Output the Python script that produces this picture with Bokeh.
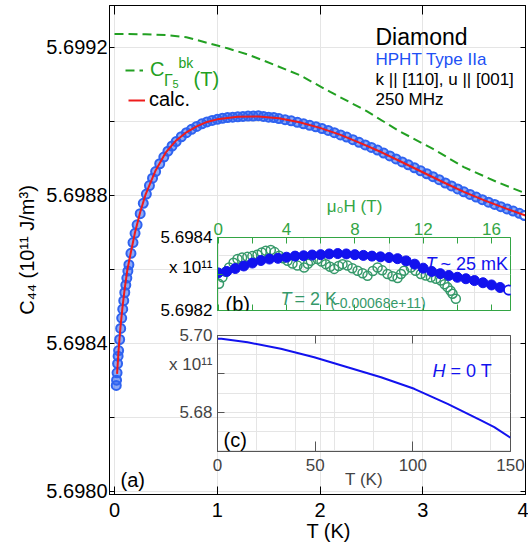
from bokeh.plotting import figure
from bokeh.models import (Range1d, LinearAxis, FixedTicker, PrintfTickFormatter, Label,
                          Legend, LegendItem)
from bokeh.embed import file_html
from bokeh.resources import INLINE
from bokeh.core.properties import value

FONT = "Liberation Sans"

# ---------------- data (main panel a) ----------------
T_data = [0.017, 0.02, 0.025, 0.03, 0.035, 0.04, 0.05, 0.06, 0.07, 0.08, 0.09, 0.10, 0.11, 0.12,
          0.13, 0.14, 0.16, 0.18, 0.20, 0.22, 0.25, 0.28, 0.31, 0.34, 0.37, 0.40, 0.44, 0.48,
          0.52, 0.56, 0.60, 0.65, 0.70, 0.75, 0.80, 0.85, 0.90, 0.95, 1.00, 1.05, 1.10, 1.15,
          1.20, 1.25, 1.30, 1.35, 1.40, 1.45, 1.50, 1.55, 1.60, 1.66, 1.72, 1.78, 1.84, 1.90,
          1.96, 2.02, 2.08, 2.14, 2.20, 2.26, 2.32, 2.38, 2.44, 2.50, 2.56, 2.62, 2.68, 2.74,
          2.80, 2.86, 2.92, 2.98, 3.04, 3.10, 3.16, 3.22, 3.28, 3.34, 3.40, 3.46, 3.52, 3.58,
          3.64, 3.70, 3.76, 3.82, 3.88, 3.94, 3.99]
C_data = [5.698286, 5.698300, 5.698320, 5.698345, 5.698365, 5.698380, 5.698410, 5.698440,
          5.698468, 5.698492, 5.698515, 5.698537, 5.698557, 5.698576, 5.698595, 5.698612,
          5.698643, 5.698672, 5.698697, 5.698720, 5.698750, 5.698778, 5.698803, 5.698826,
          5.698846, 5.698864, 5.698885, 5.698903, 5.698919, 5.698933, 5.698945, 5.698958,
          5.698969, 5.698978, 5.698986, 5.698993, 5.698998, 5.699002, 5.699005, 5.699008,
          5.699010, 5.699011, 5.699012, 5.699013, 5.699014, 5.699014, 5.699015, 5.699013,
          5.699011, 5.699010, 5.699007, 5.699004, 5.699001, 5.698997, 5.698993, 5.698989,
          5.698985, 5.698980, 5.698975, 5.698969, 5.698963, 5.698957, 5.698950, 5.698943,
          5.698936, 5.698929, 5.698922, 5.698914, 5.698906, 5.698898, 5.698890, 5.698882,
          5.698874, 5.698866, 5.698858, 5.698850, 5.698842, 5.698833, 5.698825, 5.698817,
          5.698809, 5.698802, 5.698795, 5.698788, 5.698781, 5.698775, 5.698769, 5.698763,
          5.698757, 5.698751, 5.698745]

T_calc = [0.025, 0.04, 0.06, 0.08, 0.10, 0.125, 0.15, 0.2, 0.25, 0.3, 0.4, 0.5, 0.6, 0.7,
          0.8, 0.9, 1.0, 1.2, 1.4, 1.6, 1.8, 2.0, 2.2, 2.4, 2.6, 2.8, 3.0, 3.2, 3.4, 3.6,
          3.8, 4.0]
C_calc = [5.698317, 5.698382, 5.698449, 5.698503, 5.698549, 5.698598, 5.698633, 5.698700,
          5.698754, 5.698800, 5.698867, 5.698916, 5.698948, 5.698970, 5.698986, 5.698998,
          5.699005, 5.699012, 5.699013, 5.699008, 5.698997, 5.698982, 5.698963, 5.698940,
          5.698916, 5.698889, 5.698862, 5.698835, 5.698809, 5.698786, 5.698765, 5.698745]

T_bk = [0.0, 0.3, 0.5, 0.7, 0.9, 1.1, 1.3, 1.45, 1.8, 2.1, 2.45, 2.76, 3.1, 3.4, 3.72, 4.0]
C_bk = [5.699236, 5.699235, 5.699233, 5.699227, 5.699212, 5.699197, 5.699180, 5.699164,
        5.699125, 5.699079, 5.699028, 5.698975, 5.698925, 5.698876, 5.698836, 5.698805]

# ---------------- data (inset b) ----------------
H_25mK = [0, 0.5, 1, 1.5, 2, 2.5, 3, 3.5, 4, 4.5, 5, 5.5, 6, 6.5, 7, 7.5, 8, 8.5, 9, 9.5,
          10, 10.5, 11, 11.5, 12, 12.5, 13, 13.5, 14, 14.5, 15, 15.5, 16, 16.5, 17.0]
C_25mK = [5.698303, 5.698307, 5.698315, 5.698322, 5.698330, 5.698337, 5.698341, 5.698343,
          5.698346, 5.698349, 5.698350, 5.698352, 5.698353, 5.698355, 5.698356, 5.698355,
          5.698353, 5.698351, 5.698349, 5.698347, 5.698345, 5.698342, 5.698336, 5.698327,
          5.698316, 5.698307, 5.698301, 5.698296, 5.698291, 5.698287, 5.698282, 5.698276,
          5.698270, 5.698263, 5.698256]

H_2K = [0.05, 0.25, 0.45, 0.64, 0.9, 1.13, 1.4, 1.71, 2.0, 2.30, 2.55, 2.79, 3.08, 3.3, 3.57,
        3.8, 4.06, 4.35, 4.64, 5.03, 5.25, 5.42, 5.81, 6.05, 6.30, 6.55, 6.79, 7.05, 7.28,
        7.57, 7.85, 8.16, 8.45, 8.74, 9.05, 9.33, 9.6, 9.91, 10.2, 10.5, 10.7, 10.88, 11.28,
        11.55, 11.86, 12.15, 12.45, 12.75, 13.03, 13.25, 13.42, 13.6, 13.72, 13.91]
C_2K_raw = [5.698953, 5.698971, 5.698986, 5.698998, 5.699011, 5.699021, 5.699025, 5.699027,
            5.699029, 5.699033, 5.699039, 5.699044, 5.699046, 5.699040, 5.699030, 5.699023,
            5.699016, 5.699009, 5.699003, 5.698998, 5.699008, 5.699016, 5.699021, 5.699014,
            5.699007, 5.699000, 5.698994, 5.699002, 5.699007, 5.699003, 5.698996, 5.698989,
            5.698982, 5.698975, 5.698988, 5.698998, 5.698990, 5.698980, 5.698974, 5.698969,
            5.698980, 5.698989, 5.698998, 5.698989, 5.698980, 5.698976, 5.698971, 5.698967,
            5.698962, 5.698952, 5.698944, 5.698934, 5.698926, 5.698912]
OFFSET_2K = 0.00068

# ---------------- data (inset c) ----------------
T_wide = [0, 2, 15.4, 32.4, 49.5, 66.6, 83.7, 100.7, 117.8, 134.9, 141.7, 150]
C_wide = [5.69914, 5.69918, 5.69825, 5.69653, 5.69434, 5.69173, 5.68913, 5.68610, 5.68219,
          5.67784, 5.67609, 5.67332]

# ---------------- colours ----------------
BLUE_DATA = "#2f63f0"
RED = "#ee1c1c"
GREEN = "#22a022"
GREEN_B = "#33a544"
GREEN_DATA = "#36996a"
DEEP_BLUE = "#1212ee"
GRAY = "#555555"
LGRAY = "#444444"


def axis(ticks, minor=None, tin=6, minin=None, fs=None, color="black", lcolor="black",
         fmt="%.4f", standoff=3, overrides=None):
    ax = LinearAxis(
        ticker=FixedTicker(ticks=ticks, minor_ticks=minor or []),
        formatter=PrintfTickFormatter(format=fmt),
        major_tick_in=tin, major_tick_out=0,
        minor_tick_in=tin if minin is None else minin, minor_tick_out=0,
        axis_line_color=color, major_tick_line_color=color, minor_tick_line_color=color,
        major_label_text_font=FONT,
        major_label_text_font_size=fs if fs else "1px",
        major_label_text_color=lcolor if fs else None,
        major_label_standoff=standoff if fs else 0)
    if overrides:
        ax.major_label_overrides = overrides
    elif not fs:
        ax.major_label_overrides = {t: "" for t in ticks}
    return ax


def title(ax, text, size, color="black", standoff=0):
    ax.axis_label = text
    ax.axis_label_text_font = FONT
    ax.axis_label_text_font_size = f"{size}px"
    ax.axis_label_text_font_style = "normal"
    ax.axis_label_text_color = color
    ax.axis_label_standoff = standoff


def mapper(fx0, fx1, xr, fy0, fy1, yr):
    """page pixels -> data coordinates of a panel (for text placement)"""
    def mx(px):
        return xr[0] + (px - fx0) / (fx1 - fx0) * (xr[1] - xr[0])

    def my(py):
        return yr[1] - (py - fy0) / (fy1 - fy0) * (yr[1] - yr[0])
    return mx, my


def lab(fig, m, px, py, text, size, color="black", style="normal", align="left",
        baseline="alphabetic"):
    fx, fy = m
    fig.add_layout(Label(x=fx(px), y=fy(py), text=text, text_font=FONT,
                         text_font_size=f"{size}px", text_color=color,
                         text_font_style=style, text_align=align,
                         text_baseline=baseline))


# ---------------- main figure (panel a) ----------------
XR = (-0.0487, 4.0)
YR = (5.6979911, 5.6993127)
p = figure(width=528, height=548, output_backend="svg", toolbar_location=None,
           x_range=Range1d(*XR), y_range=Range1d(*YR),
           min_border_left=109, min_border_right=3, min_border_top=5, min_border_bottom=54,
           x_axis_location=None, y_axis_location=None)
p.outline_line_color = "black"
p.background_fill_color = "white"

yl = axis([5.6980, 5.6984, 5.6988, 5.6992], [5.6982, 5.6986, 5.6990], tin=5,
          fs="20px", standoff=2)
title(yl, "C\u2084\u2084 (10\u00b9\u00b9 J/m\u00b3)", 20, standoff=5)
p.add_layout(yl, "left")
p.add_layout(axis([5.6980, 5.6982, 5.6984, 5.6986, 5.6988, 5.6990, 5.6992], tin=5), "right")
xb = axis([0, 1, 2, 3, 4], tin=8, fs="20px", fmt="%d", standoff=8)
title(xb, "\u00a0\u00a0\u00a0\u00a0T (K)", 20, standoff=0)
p.add_layout(xb, "below")
p.add_layout(axis([0, 1, 2, 3, 4], tin=9), "above")

r_bk = p.line(T_bk, C_bk, line_color=GREEN, line_width=2, line_dash="9 5")
p.scatter(T_data, C_data, marker="circle", size=9, fill_color=BLUE_DATA, fill_alpha=0.55,
          line_color=BLUE_DATA, line_width=2)
p.scatter(T_data[-1:], C_data[-1:], marker="circle", size=8, fill_color="white",
          line_color=BLUE_DATA, line_width=1.5)
r_calc = p.line(T_calc, C_calc, line_color=RED, line_width=2)

M = mapper(109, 525, XR, 5, 494, YR)

leg1 = Legend(items=[LegendItem(label=value("C"), renderers=[r_bk])], location=(16, 413),
              glyph_width=18, glyph_height=20, label_height=20, label_standoff=7, padding=0,
              margin=0, spacing=0, border_line_color=None, background_fill_alpha=0,
              label_text_font=FONT, label_text_font_size="20px", label_text_color=GREEN)
leg2 = Legend(items=[LegendItem(label=value("calc."), renderers=[r_calc])],
              location=(19, 383), glyph_width=17, glyph_height=20, label_height=20,
              label_standoff=4, padding=0, margin=0, spacing=0, border_line_color=None,
              background_fill_alpha=0, label_text_font=FONT, label_text_font_size="20px",
              label_text_color="black")
p.add_layout(leg1)
p.add_layout(leg2)
lab(p, M, 163.5, 80, "Γ", 16, GREEN)
lab(p, M, 172, 83, "5", 11, GREEN)
lab(p, M, 178, 62, "bk", 14, GREEN)
lab(p, M, 193, 78.5, "(T)", 20, GREEN)

lab(p, M, 375, 36, "Diamond", 23)
lab(p, M, 375, 58.5, "HPHT Type IIa", 17, "#2050f5")
lab(p, M, 375, 78.5, "k || [110], u || [001]", 17)
lab(p, M, 375, 98.5, "250 MHz", 17)
lab(p, M, 120, 479, "(a)", 20)

# ---------------- inset b ----------------
XB = (-0.04, 17.11)
YB = (5.69819995, 5.69840005)
pb = figure(width=365, height=134, output_backend="svg", toolbar_location=None,
            x_range=Range1d(*XB), y_range=Range1d(*YB),
            min_border_left=66, min_border_right=6, min_border_top=49, min_border_bottom=12,
            x_axis_location=None, y_axis_location=None,
            background_fill_alpha=0, border_fill_alpha=0)
pb.outline_line_color = GREEN_B
pb.add_layout(axis([5.6982, 5.698317, 5.6984], [5.6982, 5.6983, 5.6984], tin=0, minin=5,
                   fs="17px", color=GREEN_B, standoff=5,
                   overrides={5.698317: "x 10\u00b9\u00b9"}), "left")
ab = axis([0, 4, 8, 12, 16], [2, 6, 10, 14], tin=6, fs="17px", color=GREEN_B,
          lcolor=GREEN_B, fmt="%d", standoff=3)
title(ab, "\u03bc\u2080H (T)\u00a0\u00a0\u00a0\u00a0", 17, GREEN_B, standoff=4)
pb.add_layout(ab, "above")
pb.add_layout(axis([0, 4, 8, 12, 16], [2, 6, 10, 14], tin=6, color=GREEN_B), "below")

C_2K = [c - OFFSET_2K for c in C_2K_raw]
pb.scatter(H_2K, C_2K, marker="circle", size=9, fill_color=None, line_color=GREEN_DATA,
           line_width=1.5)
pb.scatter(H_25mK, C_25mK, marker="circle", size=10, fill_color=DEEP_BLUE,
           line_color=DEEP_BLUE)
pb.scatter(H_25mK[-1:], C_25mK[-1:], marker="circle", size=9, fill_color="white",
           line_color=DEEP_BLUE, line_width=1.5)

MB = mapper(217, 510, XB, 237, 310, YB)
lab(pb, MB, 225, 303, "(b)", 20)
lab(pb, MB, 425, 263.5, "T", 18, DEEP_BLUE, style="italic")
lab(pb, MB, 440, 263.5, "~ 25 mK", 18, DEEP_BLUE)
lab(pb, MB, 280, 298.5, "T", 18, GREEN_DATA, style="italic")
lab(pb, MB, 294, 298.5, "= 2 K", 18, GREEN_DATA)
lab(pb, MB, 330, 302, "(-0.00068e+11)", 14, GREEN_DATA)

# ---------------- inset c ----------------
XC = (-0.01, 150.01)
YC = (5.66974, 5.70001)
pc = figure(width=377, height=168, output_backend="svg", toolbar_location=None,
            x_range=Range1d(*XC), y_range=Range1d(*YC),
            min_border_left=66, min_border_right=18, min_border_top=11, min_border_bottom=41,
            x_axis_location=None, y_axis_location=None,
            background_fill_alpha=0, border_fill_alpha=0)
pc.outline_line_color = GRAY
pc.add_layout(axis([5.68, 5.69244, 5.70], [5.68, 5.69, 5.70], tin=0, minin=7, fs="17px",
                   color=GRAY, lcolor=LGRAY, fmt="%.2f", standoff=5,
                   overrides={5.69244: "x 10\u00b9\u00b9"}), "left")
bx = axis([0, 50, 100, 150], tin=10, fs="17px", color=GRAY, lcolor=LGRAY, fmt="%d",
          standoff=7)
title(bx, "T (K)", 17, LGRAY, standoff=-4)
pc.add_layout(bx, "below")
pc.add_layout(axis([0, 50, 100, 150], tin=8, color=GRAY), "above")
pc.line(T_wide, C_wide, line_color=DEEP_BLUE, line_width=2)

MC = mapper(217, 510, XC, 335, 451, YC)
lab(pc, MC, 223, 439, "(c)", 20)
lab(pc, MC, 432, 370, "H", 18, DEEP_BLUE, style="italic")
lab(pc, MC, 450, 370, "= 0 T", 18, DEEP_BLUE)

# insets overlaid on panel (a) at fixed page positions (separate roots, no frame alignment)
pb.styles = {"position": "absolute", "left": "151px", "top": "188px"}
pc.styles = {"position": "absolute", "left": "151px", "top": "324px"}

open("out.html", "w").write(file_html([p, pb, pc], INLINE))
